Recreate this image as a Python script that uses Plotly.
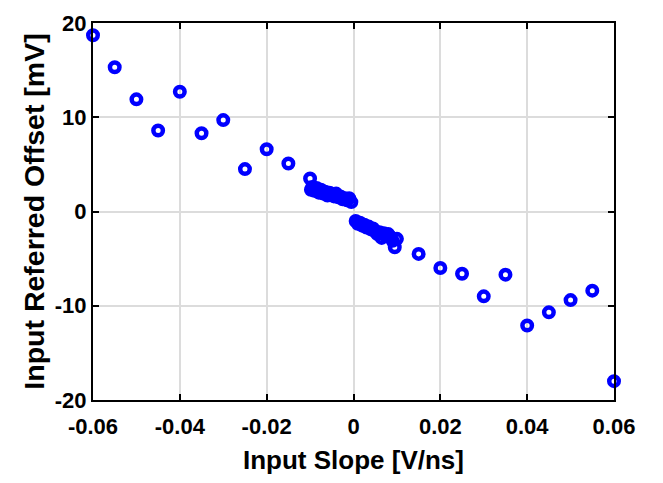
import plotly.graph_objects as go

slope = [
    -0.060, -0.055, -0.050, -0.045, -0.040, -0.035, -0.030, -0.025, -0.020, -0.015,
    -0.0100, -0.0098, -0.0095, -0.0090, -0.0085, -0.0080, -0.0075, -0.0070, -0.0065,
    -0.0060, -0.0055, -0.0050, -0.0045, -0.0040, -0.0035, -0.0030, -0.0025, -0.0020,
    -0.0015, -0.0010, -0.0005,
    0.0005, 0.0010, 0.0015, 0.0020, 0.0025, 0.0030, 0.0035, 0.0040, 0.0045, 0.0050,
    0.0055, 0.0060, 0.0065, 0.0070, 0.0075, 0.0080, 0.0085, 0.0090, 0.0095, 0.0100,
    0.015, 0.020, 0.025, 0.030, 0.035, 0.040, 0.045, 0.050, 0.055, 0.060,
]
offset_mv = [
    18.7, 15.3, 11.9, 8.6, 12.7, 8.3, 9.7, 4.5, 6.6, 5.1,
    3.5, 2.3, 2.6, 2.2, 2.5, 2.0, 2.3, 1.9, 2.1,
    1.7, 2.0, 1.8, 1.6, 1.9, 1.5, 1.6, 1.3, 1.4,
    1.2, 1.4, 1.0,
    -1.0, -1.3, -1.2, -1.5, -1.4, -1.7, -1.6, -1.9, -1.8, -2.1,
    -2.4, -2.2, -2.8, -2.3, -2.6, -2.4, -2.7, -3.1, -3.8, -2.9,
    -4.5, -6.0, -6.6, -9.0, -6.7, -12.1, -10.7, -9.4, -8.4, -18.0,
]

x_ticks = [-0.06, -0.04, -0.02, 0, 0.02, 0.04, 0.06]
x_tick_labels = ["-0.06", "-0.04", "-0.02", "0", "0.02", "0.04", "0.06"]
y_ticks = [-20, -10, 0, 10, 20]
y_tick_labels = ["-20", "-10", "0", "10", "20"]

fig = go.Figure()
fig.add_trace(go.Scatter(
    x=slope, y=offset_mv, mode="markers",
    marker=dict(symbol="circle-open", size=9.5, color="#0000ff",
                line=dict(width=4.5, color="#0000ff")),
    cliponaxis=False, showlegend=False,
))

font = "Liberation Sans, Arial, sans-serif"
axis_common = dict(
    showline=True, linecolor="black", linewidth=2, mirror="ticks",
    ticks="inside", ticklen=6, tickwidth=2, tickcolor="black",
    showgrid=True, gridcolor="#dcdcdc", gridwidth=2, zeroline=False,
    tickfont=dict(family=font, size=22, color="black", weight="bold"),
)
fig.update_xaxes(
    range=[-0.06, 0.06], tickvals=x_ticks, ticktext=x_tick_labels,
    ticklabelstandoff=6,
    title=dict(text="<b>Input Slope [V/ns]</b>", font=dict(family=font, size=26, color="black"), standoff=12),
    **axis_common,
)
fig.update_yaxes(
    range=[-20, 20], tickvals=y_ticks, ticktext=y_tick_labels,
    title=dict(text="<b>Input Referred Offset [mV]</b>", font=dict(family=font, size=28.5, color="black"), standoff=2),
    **axis_common,
)
fig.update_layout(
    width=663, height=483,
    margin=dict(l=93, r=49, t=11, b=83),
    paper_bgcolor="white", plot_bgcolor="white",
)
fig.write_html("out.html")
